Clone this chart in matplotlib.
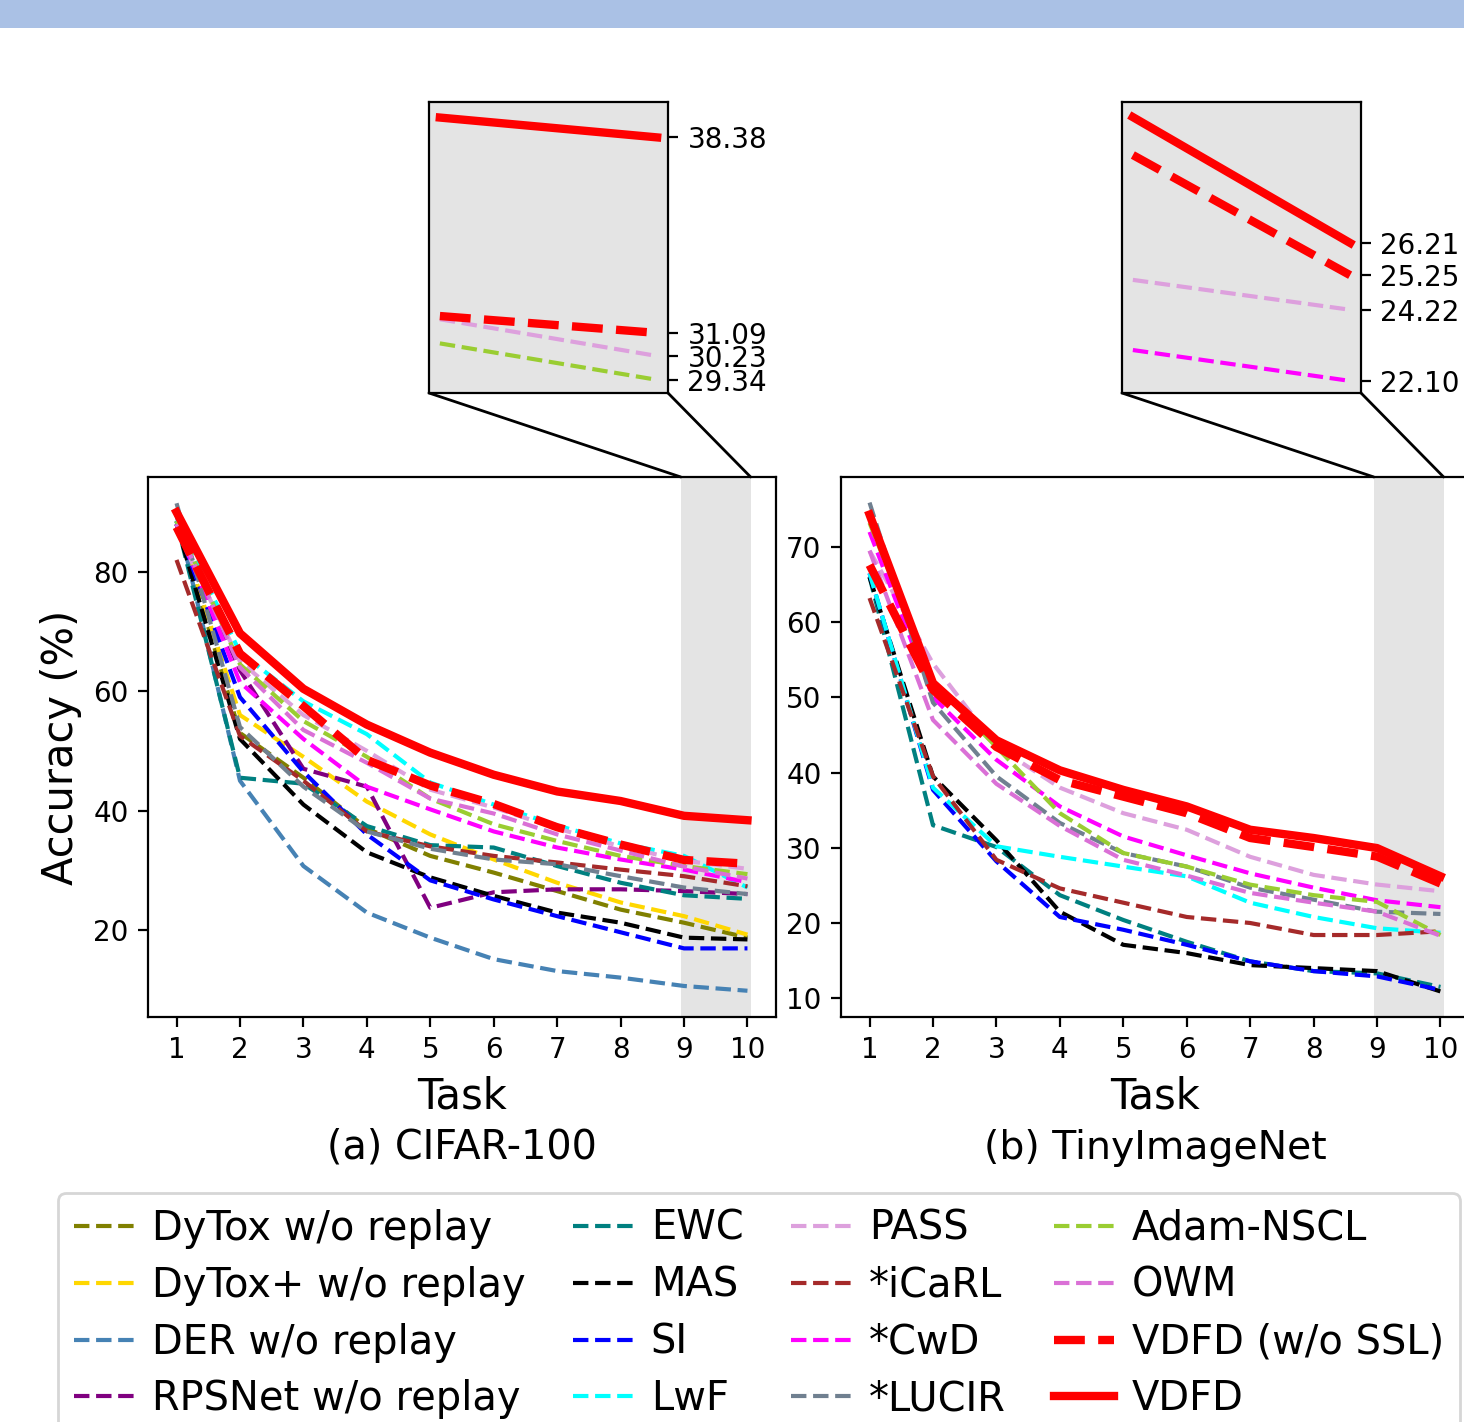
import matplotlib
matplotlib.use("Agg")
import matplotlib.pyplot as plt
from matplotlib.patches import Rectangle, ConnectionPatch

# ---------------- data ----------------
tasks = [1, 2, 3, 4, 5, 6, 7, 8, 9, 10]

labels = ["DyTox w/o replay", "DyTox+ w/o replay", "DER w/o replay", "RPSNet w/o replay",
          "EWC", "MAS", "SI", "LwF",
          "PASS", "*iCaRL", "*CwD", "*LUCIR",
          "Adam-NSCL", "OWM", "VDFD (w/o SSL)", "VDFD"]

# CIFAR-100
c100_dytox = [88.5, 53.0, 45.5, 37.0, 32.4, 29.6, 26.5, 23.4, 21.2, 18.7]
c100_dytox_plus = [88.5, 56.0, 49.0, 41.5, 36.0, 31.8, 27.9, 24.6, 22.3, 19.2]
c100_der = [89.5, 45.0, 30.7, 22.9, 18.7, 15.1, 13.1, 12.0, 10.6, 9.8]
c100_rpsnet = [88.0, 63.5, 47.0, 44.0, 23.7, 26.3, 26.8, 26.8, 26.5, 26.0]
c100_ewc = [88.5, 45.5, 44.5, 37.4, 34.2, 33.8, 30.7, 27.9, 25.8, 25.2]
c100_mas = [88.0, 52.0, 41.0, 33.0, 28.8, 25.7, 22.9, 21.2, 18.7, 18.4]
c100_si = [88.0, 59.0, 46.5, 36.0, 28.3, 25.1, 22.3, 19.6, 16.9, 16.9]
c100_lwf = [88.5, 66.5, 58.3, 52.8, 44.7, 41.0, 37.5, 34.5, 32.4, 27.1]
c100_pass = [87.0, 65.0, 56.0, 50.0, 43.5, 40.5, 37.0, 34.0, 31.6, 30.23]
c100_icarl = [82.0, 52.5, 45.0, 36.5, 34.0, 32.4, 31.3, 30.1, 29.0, 27.3]
c100_cwd = [88.0, 61.5, 52.0, 44.0, 40.2, 36.5, 33.8, 31.8, 30.1, 28.0]
c100_lucir = [91.5, 54.0, 44.0, 36.5, 33.6, 31.8, 31.0, 29.0, 27.1, 26.0]
c100_adam = [88.5, 64.5, 55.0, 49.0, 42.0, 37.7, 34.9, 32.4, 30.7, 29.34]
c100_owm = [88.0, 64.0, 53.5, 48.0, 42.0, 39.5, 36.0, 33.3, 30.6, 28.6]
c100_vdfd_nossl = [87.5, 66.3, 57.5, 48.5, 44.2, 41.1, 37.2, 34.3, 31.72, 31.09]
c100_vdfd = [90.0, 69.7, 60.4, 54.4, 49.7, 46.0, 43.2, 41.6, 39.12, 38.38]

# TinyImageNet
tin_ewc = [66.0, 33.0, 30.1, 23.7, 20.4, 17.5, 14.9, 13.6, 13.3, 11.5]
tin_mas = [66.0, 39.5, 31.0, 21.5, 17.1, 16.0, 14.4, 14.0, 13.6, 10.9]
tin_si = [66.5, 37.7, 28.2, 20.8, 19.1, 17.1, 14.9, 13.6, 12.9, 11.1]
tin_lwf = [66.5, 38.0, 30.2, 28.8, 27.5, 26.2, 22.7, 20.8, 19.3, 18.7]
tin_pass = [69.5, 54.5, 43.5, 38.0, 34.6, 32.4, 28.8, 26.4, 25.11, 24.22]
tin_icarl = [63.2, 39.5, 28.4, 24.6, 22.7, 20.8, 20.0, 18.4, 18.4, 18.9]
tin_cwd = [72.0, 50.0, 41.7, 35.5, 31.5, 29.0, 26.6, 24.7, 23.02, 22.10]
tin_lucir = [75.9, 49.3, 39.5, 33.3, 29.3, 27.5, 24.7, 23.1, 21.5, 21.2]
tin_adam = [73.2, 52.0, 43.4, 34.6, 29.3, 27.5, 25.1, 23.7, 22.8, 18.4]
tin_owm = [69.5, 47.0, 38.5, 32.9, 28.4, 26.3, 24.0, 22.7, 21.5, 18.3]
tin_vdfd_nossl = [67.6, 51.0, 43.4, 39.0, 36.8, 34.6, 31.3, 30.1, 28.83, 25.25]
tin_vdfd = [74.3, 51.9, 44.3, 40.3, 37.7, 35.5, 32.4, 31.3, 29.96, 26.21]

c100_ticks_inset = [29.34, 30.23, 31.09, 38.38]
tin_ticks_inset = [22.10, 24.22, 25.25, 26.21]

# ---------------- styles ----------------
colors = {
    "DyTox w/o replay": "olive", "DyTox+ w/o replay": "gold", "DER w/o replay": "steelblue",
    "RPSNet w/o replay": "purple", "EWC": "teal", "MAS": "black", "SI": "blue", "LwF": "cyan",
    "PASS": "plum", "*iCaRL": "brown", "*CwD": "magenta", "*LUCIR": "slategray",
    "Adam-NSCL": "yellowgreen", "OWM": "orchid", "VDFD (w/o SSL)": "red", "VDFD": "red",
}

def style(lab):
    if lab == "VDFD":
        return dict(color="red", linestyle="-", linewidth=3.0)
    if lab == "VDFD (w/o SSL)":
        return dict(color="red", linestyle="--", linewidth=3.0)
    return dict(color=colors[lab], linestyle="--", linewidth=1.5)

cifar_series = {
    "DyTox w/o replay": c100_dytox, "DyTox+ w/o replay": c100_dytox_plus,
    "DER w/o replay": c100_der, "RPSNet w/o replay": c100_rpsnet,
    "EWC": c100_ewc, "MAS": c100_mas, "SI": c100_si, "LwF": c100_lwf,
    "PASS": c100_pass, "*iCaRL": c100_icarl, "*CwD": c100_cwd, "*LUCIR": c100_lucir,
    "Adam-NSCL": c100_adam, "OWM": c100_owm, "VDFD (w/o SSL)": c100_vdfd_nossl, "VDFD": c100_vdfd,
}
tin_series = {
    "EWC": tin_ewc, "MAS": tin_mas, "SI": tin_si, "LwF": tin_lwf,
    "PASS": tin_pass, "*iCaRL": tin_icarl, "*CwD": tin_cwd, "*LUCIR": tin_lucir,
    "Adam-NSCL": tin_adam, "OWM": tin_owm, "VDFD (w/o SSL)": tin_vdfd_nossl, "VDFD": tin_vdfd,
}

W, H = 1464, 1422
fig = plt.figure(figsize=(W / 200, H / 200), dpi=200)

# top light-blue strip
fig.patches.append(Rectangle((0, 1 - 28 / H), 1, 28 / H, transform=fig.transFigure,
                             facecolor="#aac1e5", edgecolor="none", zorder=-5))

def px_rect(x0, y0, x1, y1):
    return [x0 / W, 1 - y1 / H, (x1 - x0) / W, (y1 - y0) / H]

ax1 = fig.add_axes(px_rect(148, 477, 776, 1017))
ax2 = fig.add_axes(px_rect(841, 477, 1469, 1017))
in1 = fig.add_axes(px_rect(429, 102, 668, 393))
in2 = fig.add_axes(px_rect(1122, 102, 1361, 393))

band = (8.95, 10.05)
band_color = "#e4e4e4"

handles = {}
for lab in labels:
    ln, = ax1.plot(tasks, cifar_series[lab], label=lab, **style(lab))
    handles[lab] = ln
for lab in labels:
    if lab in tin_series:
        ax2.plot(tasks, tin_series[lab], **style(lab))

for ax in (ax1, ax2):
    ax.axvspan(band[0], band[1], color=band_color, zorder=0, lw=0)
    ax.set_xticks(tasks)
    ax.set_xlim(0.55, 10.45)
    ax.tick_params(labelsize=10)
    ax.set_xlabel("Task", fontsize=15)

ax1.set_ylim(5.4, 95.9)
ax1.set_yticks([20, 40, 60, 80])
ax1.set_ylabel("Accuracy (%)", fontsize=15)
ax2.set_ylim(7.5, 79.3)
ax2.set_yticks([10, 20, 30, 40, 50, 60, 70])

fig.text((148 + 776) / 2 / W, 1 - 1148 / H, "(a) CIFAR-100", ha="center", va="center", fontsize=14.3)
fig.text((841 + 1469) / 2 / W, 1 - 1148 / H, "(b) TinyImageNet", ha="center", va="center", fontsize=14.2)

# insets (only the last two tasks are drawn inside the zoom boxes)
inset_sets = [
    (in1, ax1, cifar_series, ["Adam-NSCL", "PASS", "VDFD (w/o SSL)", "VDFD"], (28.85, 39.7), c100_ticks_inset),
    (in2, ax2, tin_series, ["*CwD", "PASS", "VDFD (w/o SSL)", "VDFD"], (21.74, 30.41), tin_ticks_inset),
]
for axin, ax, series, labs, ylim, ticks in inset_sets:
    axin.set_facecolor(band_color)
    for lab in labs:
        axin.plot(tasks[8:], series[lab][8:], **style(lab))
    axin.set_xlim(*band)
    axin.set_ylim(*ylim)
    axin.set_xticks([])
    axin.yaxis.tick_right()
    axin.set_yticks(ticks)
    axin.set_yticklabels([f"{t:.2f}" for t in ticks])
    axin.tick_params(labelsize=10)
    for (xa, xb) in [(0, band[0]), (1, band[1])]:
        con = ConnectionPatch(xyA=(xa, 0), coordsA=axin.transAxes,
                              xyB=(xb, 1), coordsB=ax.get_xaxis_transform(),
                              color="black", lw=1.0)
        fig.add_artist(con)

leg = fig.legend([handles[l] for l in labels], labels, loc="upper left",
                 bbox_to_anchor=(58 / W, 1 - 1193 / H), ncol=4, fontsize=14.4,
                 borderaxespad=0, handlelength=1.5, handletextpad=0.44,
                 columnspacing=1.2, labelspacing=0.42)

fig.savefig("out.png", dpi=200, facecolor="white")
